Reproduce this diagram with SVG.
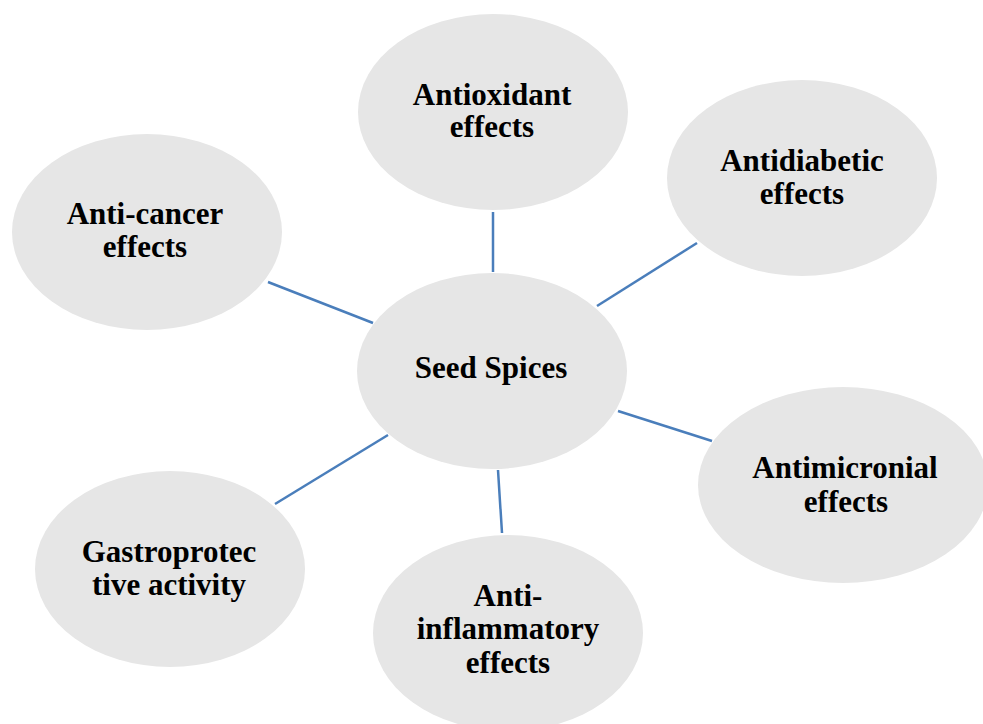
<svg xmlns="http://www.w3.org/2000/svg" width="983" height="724" viewBox="0 0 983 724">
<style>
.n{fill:#e6e6e6;stroke:none}
.t{font-family:"Liberation Serif","Times New Roman",serif;font-weight:bold;font-size:31px;fill:#000;text-anchor:middle}
.c{stroke:#4a7ebb;stroke-width:2.5;fill:none}
</style>
<rect width="983" height="724" fill="#fff"/>
<g id="connectors">
<line class="c" x1="493" y1="212" x2="493" y2="272"/>
<line class="c" x1="697" y1="243" x2="597" y2="306"/>
<line class="c" x1="268" y1="282" x2="373" y2="323"/>
<line class="c" x1="618" y1="411" x2="712" y2="441"/>
<line class="c" x1="388" y1="435" x2="275" y2="504"/>
<line class="c" x1="498" y1="470" x2="502" y2="533"/>
</g>
<g id="antioxidant">
<ellipse class="n" cx="493" cy="112" rx="135" ry="98"/>
<text class="t" x="492" y="105">Antioxidant</text>
<text class="t" x="492" y="137">effects</text>
</g>
<g id="antidiabetic">
<ellipse class="n" cx="802" cy="178" rx="135" ry="98"/>
<text class="t" x="802" y="171">Antidiabetic</text>
<text class="t" x="802" y="204">effects</text>
</g>
<g id="anticancer">
<ellipse class="n" cx="147" cy="232" rx="135" ry="98"/>
<text class="t" x="145" y="224">Anti-cancer</text>
<text class="t" x="145" y="257">effects</text>
</g>
<g id="seedspices">
<ellipse class="n" cx="492" cy="371" rx="135" ry="98"/>
<text class="t" x="491" y="378">Seed Spices</text>
</g>
<g id="antimicronial">
<ellipse class="n" cx="843" cy="485" rx="145" ry="98"/>
<text class="t" x="845" y="478">Antimicronial</text>
<text class="t" x="846" y="512">effects</text>
</g>
<g id="gastroprotective">
<ellipse class="n" cx="170" cy="569" rx="135" ry="98"/>
<text class="t" x="169" y="562">Gastroprotec</text>
<text class="t" x="169" y="595">tive activity</text>
</g>
<g id="antiinflammatory">
<ellipse class="n" cx="508" cy="633" rx="135" ry="98"/>
<text class="t" x="508" y="606">Anti-</text>
<text class="t" x="508" y="639">inflammatory</text>
<text class="t" x="508" y="673">effects</text>
</g>
</svg>
